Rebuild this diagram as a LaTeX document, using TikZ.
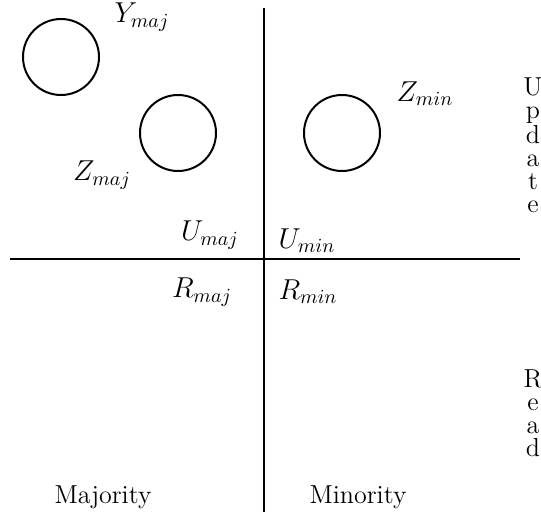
\documentclass[tikz,border=0pt]{standalone}
\usepackage{tikz}
\usetikzlibrary{positioning}

\begin{document}
\begin{tikzpicture}[
  x=0.5pt,y=-0.5pt,
  font=\fontsize{13}{11.5}\selectfont,
  site/.style={draw,circle,line width=1pt,minimum size=38pt,inner sep=0pt},
  tag/.style={inner sep=1pt,font=\fontsize{14.4}{16}\selectfont},
  side/.style={align=center,inner sep=0pt},
  axis/.style={draw,line width=1.1pt}
]
\useasboundingbox (0,0) rectangle (541,529);
\coordinate (top) at (264,8);
\coordinate (bottom) at (264,512);
\coordinate (left) at (10,259);
\coordinate (right) at (520,259);
\node[site] (ymaj) at (61,57) {};
\node[site] (zmaj) at (178,133) {};
\node[site] (zmin) at (342,133) {};
\node[tag] (ymajlab) at (142,17) {$Y_{maj}$};
\node[tag] (zmajlab) at (102,175) {$Z_{maj}$};
\node[tag] (zminlab) at (425,94) {$Z_{min}$};
\node[tag] (umaj) at (210,235) {$U_{maj}$};
\node[tag] (umin) at (307,241) {$U_{min}$};
\node[tag] (rmaj) at (202,292) {$R_{maj}$};
\node[tag] (rmin) at (308,292) {$R_{min}$};
\node[side] (update) at (533,145) {U\\p\\d\\a\\t\\e};
\node[side] (read) at (533,413) {R\\e\\a\\d};
\node (majority) at (103,497) {Majority};
\node (minority) at (358,497) {Minority};
\draw[axis] (top) -- (bottom);
\draw[axis] (left) -- (right);
\end{tikzpicture}
\end{document}
